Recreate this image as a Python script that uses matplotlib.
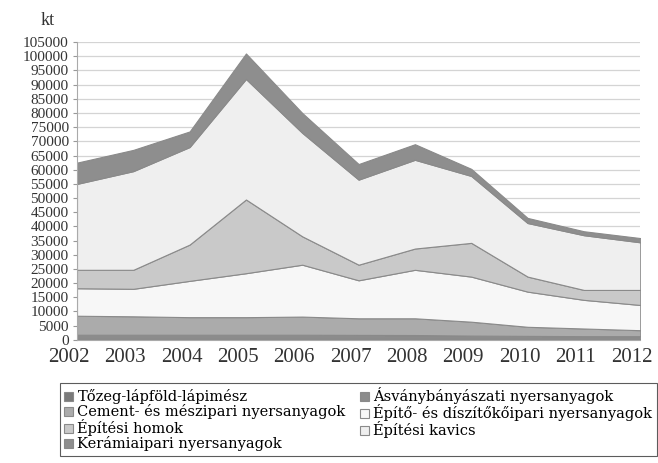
import numpy as np
import matplotlib
matplotlib.use("Agg")
import matplotlib.pyplot as plt
from matplotlib.transforms import ScaledTranslation

# yearly output, kt
years = [2002, 2003, 2004, 2005, 2006, 2007, 2008, 2009, 2010, 2011, 2012]
tozeg = [400, 400, 400, 400, 400, 350, 350, 300, 300, 300, 300]
asvany = [1400, 1400, 1400, 1400, 1400, 1400, 1350, 1200, 1100, 1000, 1000]
cement = [6700, 6500, 6200, 6200, 6400, 5850, 5900, 4900, 3200, 2700, 2100]
diszito = [9700, 9700, 12800, 15500, 18300, 13400, 17100, 15900, 12400, 10100, 8900]
homok = [6500, 6700, 12800, 26000, 10000, 5500, 7500, 11900, 5300, 3500, 5300]
kavics = [30300, 34800, 34400, 42500, 36500, 30000, 31300, 23600, 18900, 19300, 16800]
keramia = [7500, 7500, 5500, 9000, 7000, 5500, 5500, 2500, 1800, 1400, 1500]

names = ["Tőzeg-lápföld-lápimész", "Ásványbányászati nyersanyagok",
         "Cement- és mészipari nyersanyagok", "Építő- és díszítőkőipari nyersanyagok",
         "Építési homok", "Építési kavics", "Kerámiaipari nyersanyagok"]
series = [tozeg, asvany, cement, diszito, homok, kavics, keramia]
colors = ["#7a7a7a", "#8c8c8c", "#ababab", "#f7f7f7", "#c9c9c9", "#efefef", "#8e8e8e"]

plt.rcParams['font.family'] = ['Liberation Serif', 'DejaVu Serif']

fig = plt.figure(figsize=(6.58, 4.63), dpi=100)
ax = fig.add_axes([0.117, 0.266, 0.856, 0.643])

polys = ax.stackplot(years, *series, colors=colors, labels=names,
                     edgecolor="#8a8a8a", linewidth=0.8)

ax.set_xlim(2002, 2012)
ax.set_ylim(0, 105000)
ax.set_yticks(np.arange(0, 105001, 5000))
ax.set_yticklabels([str(v) for v in range(0, 105001, 5000)], fontsize=11, color="#333333")
ax.set_xticks(years)
ax.set_xticklabels([str(y) for y in years], fontsize=15, color="#333333")
ax.tick_params(axis="y", length=3, pad=3, color="#999999")
ax.tick_params(axis="x", length=0, pad=6)
# year labels sit a little left of their ticks
shift = ScaledTranslation(-0.08, 0, fig.dpi_scale_trans)
for lbl in ax.get_xticklabels():
    lbl.set_transform(lbl.get_transform() + shift)
ax.yaxis.grid(True, color="#d4d4d4", linewidth=0.9)
ax.set_axisbelow(True)
for s in ["top", "right"]:
    ax.spines[s].set_visible(False)
ax.spines["left"].set_color("#aaaaaa")
ax.spines["bottom"].set_color("#aaaaaa")

fig.text(0.062, 0.955, "kt", fontsize=13, color="#333333", ha="left", va="center")

# legend filled row by row in two columns
order = [0, 2, 4, 6, 1, 3, 5]
handles, labels = ax.get_legend_handles_labels()
leg = fig.legend([handles[i] for i in order], [labels[i] for i in order],
                 ncol=2, loc="upper left", bbox_to_anchor=(0.091, 0.173),
                 prop={"family": "DejaVu Serif", "size": 10.5},
                 frameon=True, fancybox=False,
                 handlelength=0.6, handleheight=0.6, handletextpad=0.3,
                 labelspacing=0.0, borderpad=0.3, borderaxespad=0,
                 columnspacing=1.0)
leg.get_frame().set_edgecolor("#333333")
leg.get_frame().set_linewidth(0.8)

fig.savefig("out.png", dpi=100)
